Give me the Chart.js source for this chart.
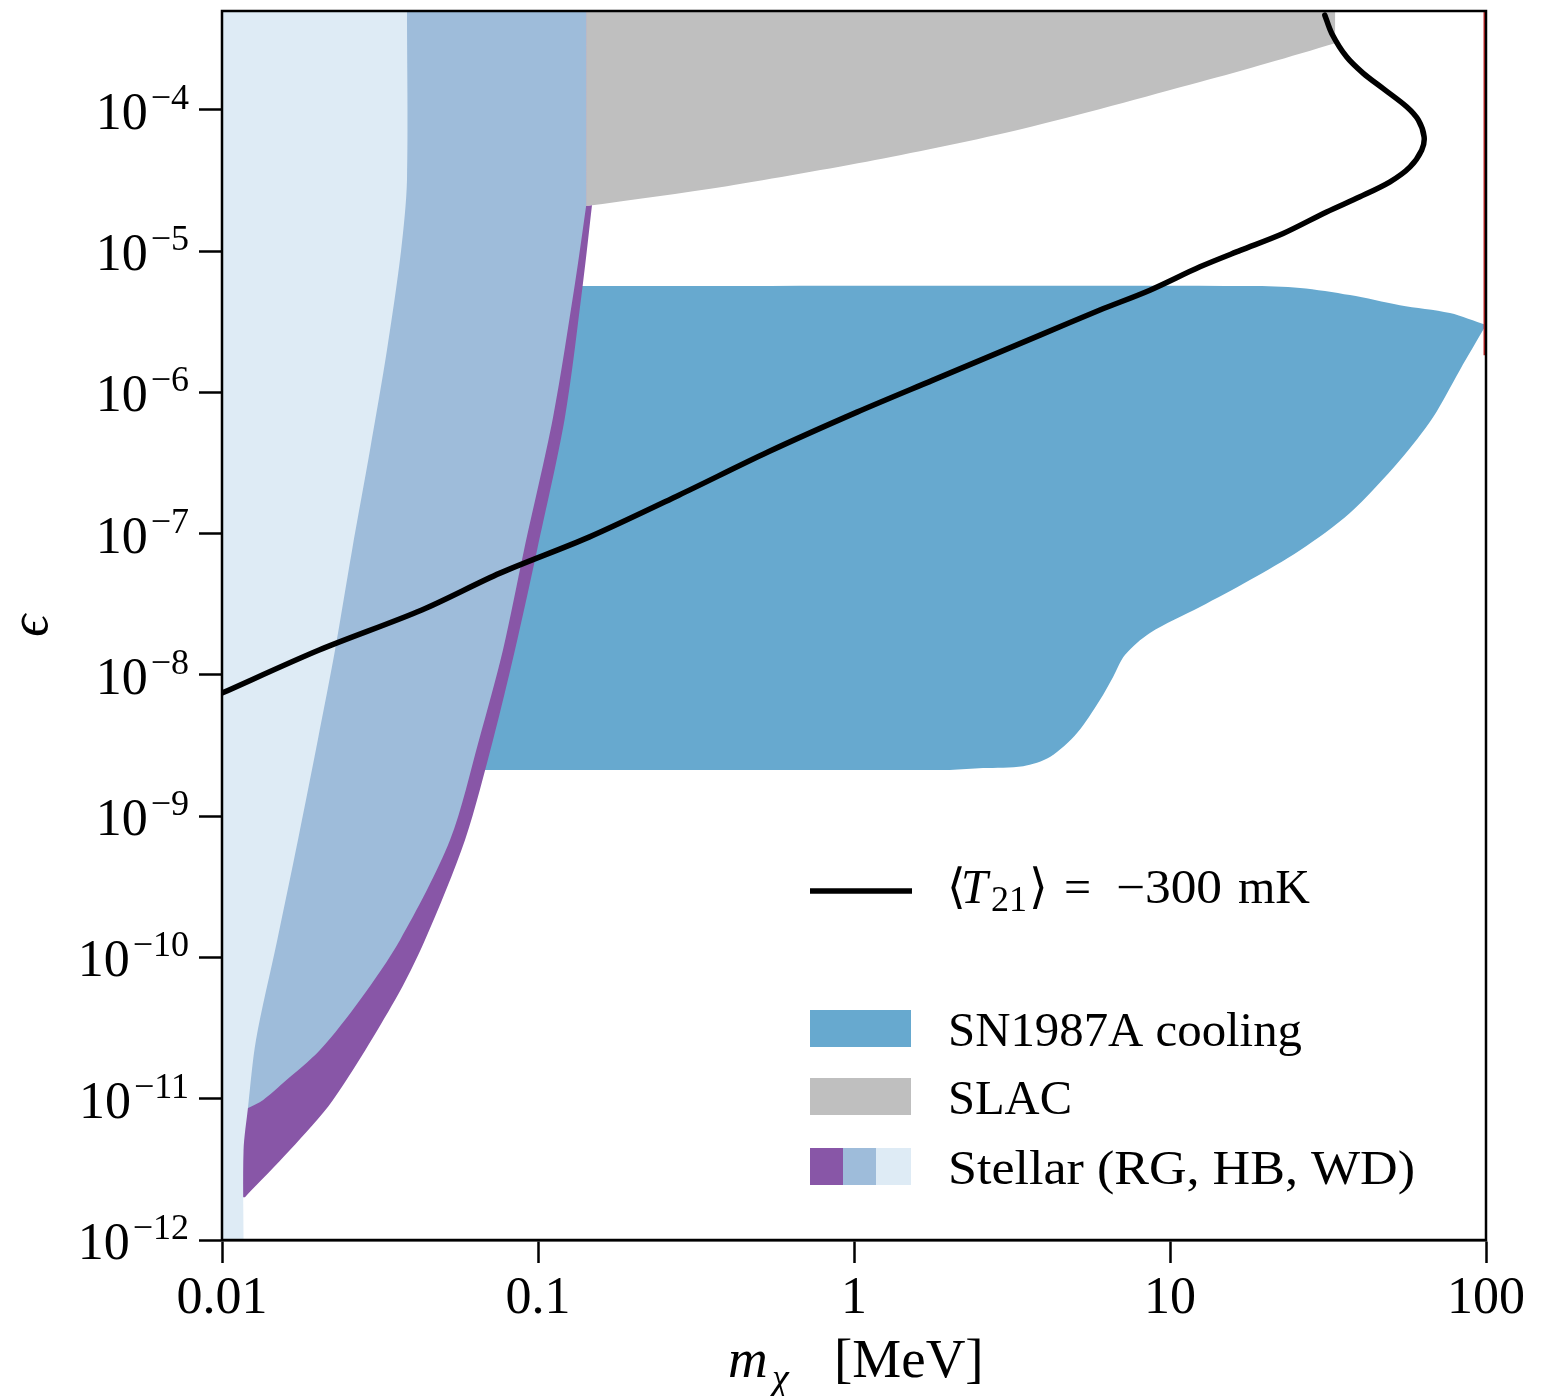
<!DOCTYPE html>
<html><head><meta charset="utf-8">
<script src="https://cdn.jsdelivr.net/npm/chart.js@4.4.1/dist/chart.umd.min.js"></script>
<style>html,body{margin:0;padding:0;background:#fff}#wrap{width:1555px;height:1396px;position:relative}</style>
</head><body><div id="wrap"><canvas id="c" width="1555" height="1396"></canvas></div>
<script>
// ---- axes ----
const xRange = [0.01, 100];
const yRange = [1e-12, 5e-4];
const xTicks = [0.01, 0.1, 1, 10, 100];
const xTickLabels = ['0.01', '0.1', '1', '10', '100'];
const yTickExponents = [-12, -11, -10, -9, -8, -7, -6, -5, -4];

// ---- <T21> = -300 mK curve ----
const t21Mass = [0.01, 0.0203, 0.0429, 0.0758, 0.145, 0.279, 0.534, 1.022, 1.778, 3.88, 6.00, 8.64, 12.44, 16.7, 22.8, 31.3, 39.9, 49.7, 57.5, 62.6, 63.7, 61.1, 56.1, 47.3, 40.9, 36.2, 32.5, 30.9];
const t21Eps  = [7.43e-9, 1.50e-8, 2.88e-8, 5.25e-8, 9.44e-8, 1.87e-7, 3.78e-7, 7.24e-7, 1.22e-6, 2.54e-6, 3.82e-6, 5.28e-6, 7.73e-6, 1.01e-5, 1.33e-5, 1.89e-5, 2.42e-5, 3.09e-5, 3.94e-5, 5.18e-5, 6.43e-5, 8.44e-5, 1.05e-4, 1.41e-4, 1.81e-4, 2.37e-4, 3.47e-4, 4.67e-4];

// ---- SN1987A cooling region (outline) ----
const snMass = [0.0655, 0.1378, 17.9, 25.8, 37.1, 53.4, 76.9, 100, 82.7, 68.0, 53.4, 37.1, 25.8, 17.9, 12.44, 8.64, 7.20, 6.60, 6.00, 5.08, 4.17, 3.43, 2.56, 2.01];
const snEps  = [2.12e-9, 5.65e-6, 5.65e-6, 5.48e-6, 4.88e-6, 4.14e-6, 3.64e-6, 2.99e-6, 1.44e-6, 6.67e-7, 3.31e-7, 1.40e-7, 7.63e-8, 4.69e-8, 3.02e-8, 1.98e-8, 1.38e-8, 9.63e-9, 6.64e-9, 3.87e-9, 2.62e-9, 2.26e-9, 2.19e-9, 2.12e-9];

// ---- SLAC region (outline) ----
const slacMass = [0.142, 33.3, 33.3, 20.4, 12.44, 3.40, 1.166, 0.396, 0.142];
const slacEps  = [5e-4, 5e-4, 2.96e-4, 2.14e-4, 1.57e-4, 7.30e-5, 4.40e-5, 2.88e-5, 2.08e-5];

// ---- Stellar: RG region (outline) ----
const rgMass = [0.01, 0.142, 0.142, 0.1482, 0.1388, 0.1217, 0.0993, 0.08455, 0.07205, 0.05875, 0.04389, 0.03528, 0.02245, 0.01641, 0.01182, 0.01];
const rgEps  = [5e-4, 5e-4, 2.08e-5, 2.11e-5, 5.93e-6, 6.67e-7, 7.63e-8, 1.50e-8, 3.46e-9, 6.78e-10, 1.33e-10, 5.0e-11, 9.8e-12, 4.33e-12, 2.01e-12, 2.01e-12];

// ---- Stellar: HB region (outline) ----
const hbMass = [0.01, 0.142, 0.142, 0.131, 0.1116, 0.0903, 0.07747, 0.06506, 0.05267, 0.0366, 0.02733, 0.02042, 0.0156, 0.0135, 0.0121, 0.01];
const hbEps  = [5e-4, 5e-4, 2.08e-5, 5.93e-6, 6.67e-7, 7.63e-8, 1.50e-8, 3.46e-9, 6.78e-10, 1.33e-10, 5.0e-11, 2.21e-11, 1.29e-11, 9.8e-12, 8.6e-12, 8.6e-12];

// ---- Stellar: WD region (outline) ----
const wdMass = [0.01, 0.0385, 0.0385, 0.03686, 0.03328, 0.0294, 0.02579, 0.02279, 0.02012, 0.0174, 0.01493, 0.01281, 0.01209, 0.0117, 0.0117, 0.01];
const wdEps  = [5e-4, 5e-4, 3.2e-5, 1.0e-5, 2.0e-6, 3.9e-7, 7.6e-8, 1.5e-8, 3.5e-9, 6.8e-10, 1.3e-10, 2.6e-11, 8.7e-12, 4.3e-12, 1e-12, 1e-12];

// ---- thin red edge at 100 MeV ----
const redMass = [100, 100];
const redEps  = [5e-4, 1.83e-6];

// ---- corner vertices of each outline (kept sharp when smoothing) ----
const snCorners = [0, 1, 7];
const slacCorners = [1, 2];
const rgCorners = [1, 2, 3, 14];
const hbCorners = [1, 2, 14];
const wdCorners = [1, 14];

// ---- legend labels ----
const legendLabels = ['SN1987A cooling', 'SLAC', 'Stellar (RG, HB, WD)'];

const COL = { sn: '#67a9cf', slac: '#bfbfbf', rg: '#8856a7', hb: '#9ebcda', wd: '#deebf5', red: '#c62828' };
const SERIF = '"Liberation Serif", "DejaVu Serif", serif';

const zip = (xs, ys) => xs.map((x, i) => ({ x: x, y: ys[i] }));
const outline = (xs, ys, corners) => {
  const out = [];
  xs.forEach((x, i) => {
    out.push({ x: x, y: ys[i] });
    if (corners.includes(i)) out.push({ x: x, y: ys[i] });
  });
  return out;
};
const region = (label, xs, ys, corners, color, order) => ({
  label, data: outline(xs, ys, corners), backgroundColor: color, borderColor: 'rgba(0,0,0,0)', borderWidth: 1,
  fill: 'shape', pointRadius: 0, tension: 0.3, order
});

const decor = {
  id: 'decor',
  afterDatasetsDraw(chart) {
    const { ctx, chartArea: a, scales: { x, y } } = chart;
    ctx.save();
    // frame
    ctx.strokeStyle = '#000'; ctx.lineWidth = 2.5;
    ctx.strokeRect(a.left, a.top, a.right - a.left, a.bottom - a.top);
    ctx.fillStyle = '#000';
    ctx.textBaseline = 'alphabetic';
    // x tick labels
    ctx.font = '52px ' + SERIF; ctx.textAlign = 'center';
    xTicks.forEach((v, i) => ctx.fillText(xTickLabels[i], x.getPixelForValue(v), a.bottom + 73));
    // y tick labels 10^{e}
    yTickExponents.forEach(e => {
      const py = y.getPixelForValue(Math.pow(10, e));
      const sup = '\u2212' + Math.abs(e);
      ctx.font = '36px ' + SERIF;
      const sw = ctx.measureText(sup).width;
      const right = a.left - 33;
      ctx.textAlign = 'left';
      ctx.fillText(sup, right - sw, py - 1);
      ctx.font = '52px ' + SERIF; ctx.textAlign = 'right';
      ctx.fillText('10', right - sw - 3, py + 19);
    });
    // x title
    ctx.textAlign = 'left';
    ctx.font = 'italic 55px ' + SERIF; ctx.fillText('m', 728, 1377);
    ctx.font = 'italic 38px ' + SERIF; ctx.fillText('\u03C7', 772, 1390);
    ctx.font = '55px ' + SERIF; ctx.fillText('[MeV]', 834, 1377);
    // y title
    ctx.save(); ctx.translate(47, 626); ctx.rotate(-Math.PI / 2);
    ctx.textAlign = 'center'; ctx.font = 'italic 55px ' + SERIF; ctx.fillText('\u03F5', 0, 0);
    ctx.restore();
    // legend: line entry
    ctx.strokeStyle = '#000'; ctx.lineWidth = 5.5;
    ctx.beginPath(); ctx.moveTo(810, 891); ctx.lineTo(912, 891); ctx.stroke();
    ctx.textAlign = 'left';
    ctx.font = '48px ' + SERIF; ctx.fillText('\u27E8', 947, 903);
    ctx.font = 'italic 48px ' + SERIF; ctx.fillText('T', 961, 903);
    ctx.font = '36px ' + SERIF; ctx.fillText('21', 991, 911);
    ctx.font = '48px ' + SERIF;
    ctx.fillText('\u27E9', 1029, 903);
    ctx.fillText('=', 1064, 903);
    ctx.save(); ctx.translate(1116, 903);
    const mw = ctx.measureText('\u2212300').width; ctx.scale(106 / mw, 1);
    ctx.fillText('\u2212300', 0, 0); ctx.restore();
    ctx.fillText('mK', 1238, 903);
    // legend: patches
    const rows = [1010, 1078, 1148];
    ctx.fillStyle = COL.sn; ctx.fillRect(810, rows[0], 101, 37);
    ctx.fillStyle = COL.slac; ctx.fillRect(810, rows[1], 101, 37);
    ctx.fillStyle = COL.rg; ctx.fillRect(810, rows[2], 34, 37);
    ctx.fillStyle = COL.hb; ctx.fillRect(843, rows[2], 34, 37);
    ctx.fillStyle = COL.wd; ctx.fillRect(876, rows[2], 35, 37);
    ctx.fillStyle = '#000'; ctx.font = '48px ' + SERIF;
    const targetW = [354, 124, 467];
    legendLabels.forEach((t, i) => {
      const w = ctx.measureText(t).width;
      ctx.save(); ctx.translate(948, rows[i] + 36); ctx.scale(Math.max(1, targetW[i] / w), 1);
      ctx.fillText(t, 0, 0); ctx.restore();
    });
    ctx.restore();
  }
};

const decadeTicks = (vals) => (scale) => { scale.ticks = vals.map(v => ({ value: v })); };

new Chart(document.getElementById('c'), {
  type: 'line',
  data: {
    datasets: [
      { label: '<T21> = -300 mK', data: zip(t21Mass, t21Eps), borderColor: '#000', borderWidth: 5.5, fill: false,
        pointRadius: 0, tension: 0.3, borderCapStyle: 'round', borderJoinStyle: 'round', order: 0 },
      { label: 'edge', data: zip(redMass, redEps), borderColor: COL.red, borderWidth: 5, fill: false, pointRadius: 0,
        clip: { left: 0, top: 0, right: 0, bottom: 0 }, order: 1 },
      region('WD', wdMass, wdEps, wdCorners, COL.wd, 2),
      region('HB', hbMass, hbEps, hbCorners, COL.hb, 3),
      region('RG', rgMass, rgEps, rgCorners, COL.rg, 4),
      region('SLAC', slacMass, slacEps, slacCorners, COL.slac, 5),
      region('SN1987A cooling', snMass, snEps, snCorners, COL.sn, 6)
    ]
  },
  options: {
    responsive: false, animation: false, devicePixelRatio: 1,
    layout: { padding: { left: 199, top: 11, right: 69, bottom: 133 } },
    plugins: { legend: { display: false }, tooltip: { enabled: false } },
    scales: {
      x: { type: 'logarithmic', min: xRange[0], max: xRange[1], afterBuildTicks: decadeTicks(xTicks),
           ticks: { display: false },
           grid: { display: true, drawOnChartArea: false, drawTicks: true, tickLength: 23, tickWidth: 2.5, tickColor: '#000' },
           border: { display: true, color: '#000', width: 2.5 } },
      y: { type: 'logarithmic', min: yRange[0], max: yRange[1],
           afterBuildTicks: decadeTicks(yTickExponents.map(e => Math.pow(10, e))),
           ticks: { display: false },
           grid: { display: true, drawOnChartArea: false, drawTicks: true, tickLength: 23, tickWidth: 2.5, tickColor: '#000' },
           border: { display: true, color: '#000', width: 2.5 } }
    }
  },
  plugins: [decor]
});
</script></body></html>
